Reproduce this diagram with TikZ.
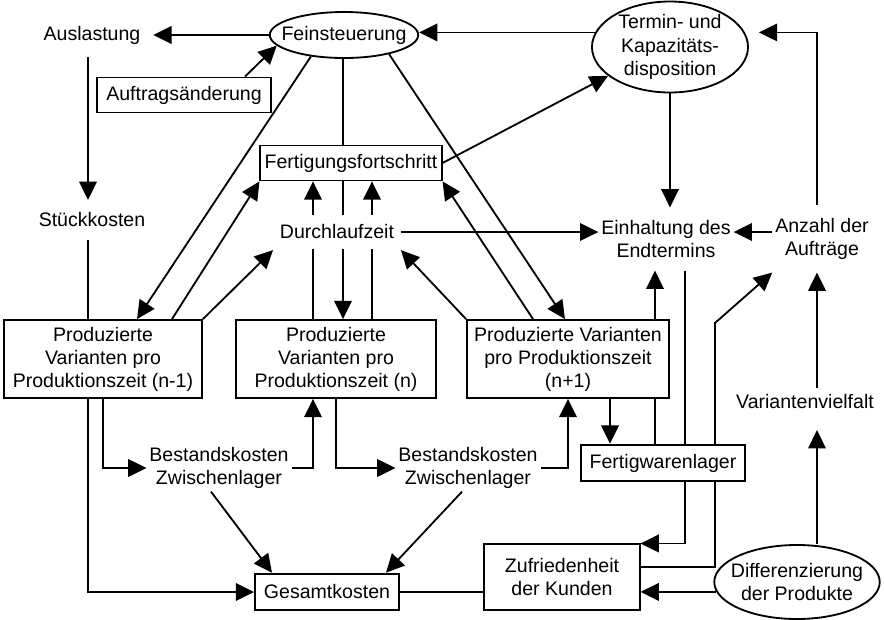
\documentclass[tikz,border=0pt]{standalone}
\usepackage{fontspec}
\setmainfont{Liberation Sans}
\usetikzlibrary{arrows.meta,shapes.geometric,backgrounds}

\tikzset{
  box/.style={draw, fill=white, align=center, inner sep=1pt},
  oval/.style={draw, fill=white, ellipse, align=center, inner sep=0pt},
  txt/.style={fill=white, align=center, inner sep=1.5pt},
  link/.style={line width=1.3pt},
  arr/.style={link, -{Triangle[length=13pt,width=12.5pt]}}
}

\begin{document}
\begin{tikzpicture}[x=0.025cm, y=-0.025cm, line width=1.3pt,
    every node/.style={font=\fontsize{13.9pt}{16.4pt}\selectfont}]
  \useasboundingbox (0,0) rectangle (884,620);

  % obere Reihe
  \node[txt, inner sep=0.3cm] (ausl) at (92,35) {Auslastung};
  \node[oval, inner xsep=-0.25cm, minimum height=1.15cm] (fein) at (344,35) {Feinsteuerung};
  \node[oval, minimum width=3.9cm, minimum height=2.25cm] (termin) at (670,47) {Termin- und\\Kapazitäts-\\disposition};
  \node[box, minimum width=4.33cm, minimum height=0.875cm] (auftr) at (184,95) {Auftragsänderung};
  \node[txt, inner sep=0.3cm] (stueck) at (92,220) {Stückkosten};
  \node[box, minimum width=4.53cm, minimum height=0.875cm] (ffs) at (351,163) {Fertigungsfortschritt};
  \node[txt, inner xsep=0.15cm, inner ysep=0.25cm] (dlz) at (337,232) {Durchlaufzeit};
  \node[txt, inner ysep=0.3cm] (einh) at (666,239) {Einhaltung des\\Endtermins};
  \node[txt, inner ysep=0.3cm] (anz) at (822,239) {Anzahl der\\Aufträge};

  % Produktionszeiten
  \node[box, minimum width=4.95cm, minimum height=1.95cm] (pa) at (103,359) {Produzierte\\Varianten pro\\Produktionszeit (n-1)};
  \node[box, minimum width=4.98cm, minimum height=1.95cm] (pb) at (336,359) {Produzierte\\Varianten pro\\Produktionszeit (n)};
  \node[box, minimum width=5.05cm, minimum height=1.95cm] (pc) at (568,359) {Produzierte Varianten\\pro Produktionszeit\\(n+1)};
  \node[txt, inner sep=0.15cm] (vvf) at (805,402) {Variantenvielfalt};

  % Kosten, Lager, Kunden
  \node[txt] (bk1) at (219,468) {Bestandskosten\\Zwischenlager};
  \node[txt] (bk2) at (468,468) {Bestandskosten\\Zwischenlager};
  \node[box, minimum width=4.1cm, minimum height=0.92cm] (fwl) at (663,463) {Fertigwarenlager};
  \node[box, minimum width=3.6cm, minimum height=0.92cm] (ges) at (327,592) {Gesamtkosten};
  \node[box, minimum width=3.88cm, minimum height=1.63cm] (zuf) at (562,577) {Zufriedenheit\\der Kunden};
  \node[oval, inner xsep=-0.19cm, minimum height=1.85cm] (diff) at (797,582) {Differenzierung\\der Produkte};

  % Verbindungen liegen hinter den Knoten
  \begin{scope}[on background layer]
    \draw[arr] (fein) -- (ausl);
    \draw[arr] (termin.169) -- (termin.169 -| fein.east);
    \draw[arr] (245,0 |- auftr.north) -- (fein.189);
    \draw[arr] (88,0 |- ausl.south) -- (88,0 |- stueck.north);
    \draw[arr] (88,0 |- stueck.south) |- (ges);

    \draw[arr] (fein.213) -- (137,0 |- pa.north);
    \draw[arr] (172,0 |- pa.north) -- (ffs.south west);
    \draw[arr] (pa.north east) -- (dlz.south west);
    \draw[arr] (343,0 |- fein.south) -- (343,0 |- pb.north);
    \draw[arr] (313,0 |- pb.north) -- (313,0 |- ffs.south);
    \draw[arr] (372,0 |- pb.north) -- (372,0 |- ffs.south);
    \draw[arr] (fein.337) -- (565,0 |- pc.north);
    \draw[arr] (533,0 |- pc.north) -- (ffs.south east);
    \draw[arr] (pc.north west) -- (dlz.south east);
    \draw[arr] (ffs.east) -- (termin.205);

    \draw[arr] (dlz) -- (dlz -| einh.west);
    \draw[arr] (termin) -- (termin |- einh.north);
    \draw[arr] (anz.west |- dlz) -- (einh.east |- dlz);
    \draw[arr] (817,0 |- anz.north) |- ([xshift=0.35cm]termin.11);

    \draw[arr] (655,0 |- fwl.north) -- (655,0 |- einh.south);
    \draw[arr] (685,0 |- einh.south) |- (zuf.north east);
    \draw[arr] ([yshift=0.25cm]zuf.east) -| (715,323) -- (anz.south west);
    \draw[arr] (610,0 |- pc.south) -- (610,0 |- fwl.north);

    \draw[arr] (pa.south) |- (bk1);
    \draw[arr] (bk1) -| (313,0 |- pb.south);
    \draw[arr] (pb.south) |- (bk2);
    \draw[arr] (bk2) -| (pc.south);
    \draw[arr] ([xshift=-0.2cm]bk1.south) -- (272,0 |- ges.north);
    \draw[arr] ([xshift=-0.15cm]bk2.south) -- (386,0 |- ges.north);

    \draw[link] (ges.east) -- (ges.east -| zuf.west);
    \draw[arr] (diff.187) -- (diff.187 -| zuf.east);
    \draw[arr, shorten >=0.35cm] (817,0 |- diff.north) -- (817,0 |- vvf.south);
    \draw[arr] (817,0 |- vvf.north) -- (817,0 |- anz.south);
  \end{scope}
\end{tikzpicture}
\end{document}
